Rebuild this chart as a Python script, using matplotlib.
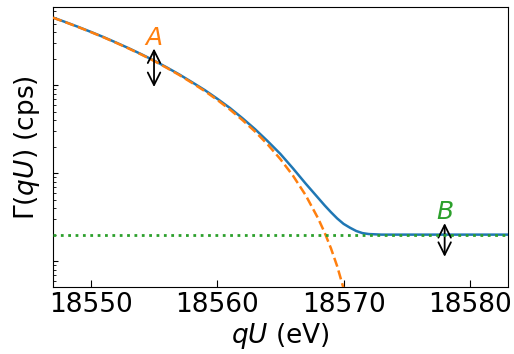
import matplotlib.pyplot as plt

# energies (eV) and rates (cps)
qu_total = [18547, 18548, 18549, 18550, 18551, 18552, 18553, 18554, 18555,
            18556, 18557, 18558, 18559, 18560, 18561, 18562, 18563, 18564,
            18565, 18566, 18567, 18568, 18568.5, 18569, 18569.5, 18570,
            18570.5, 18571, 18571.5, 18572, 18573, 18575, 18578, 18583]
rate_total = [585, 519, 458, 402, 351, 304, 262, 224, 190,
              159, 132, 108, 88, 70, 55, 42, 31.5, 23,
              16.5, 11.3, 7.6, 5.2, 4.3, 3.6, 3.05, 2.65,
              2.4, 2.2, 2.08, 2.03, 2.0, 2.0, 2.0, 2.0]

qu_signal = [18547, 18548, 18549, 18550, 18551, 18552, 18553, 18554, 18555,
             18556, 18557, 18558, 18559, 18560, 18561, 18562, 18563, 18564,
             18565, 18566, 18567, 18568, 18568.5, 18569, 18569.5, 18570,
             18570.5]
rate_signal = [583, 517, 456, 400, 349, 302, 260, 222, 188,
               157, 130, 106, 85.7, 67.9, 52.8, 40.0, 29.6, 21.1,
               14.4, 9.33, 5.61, 3.03, 2.11, 1.40, 0.87, 0.49,
               0.244]

qu_bkg = [18547, 18583]
rate_bkg = [2.0, 2.0]

fig = plt.figure(figsize=(5.14, 3.54), dpi=100)
ax = fig.add_axes([0.103, 0.189, 0.885, 0.791])

ax.plot(qu_total, rate_total, color='tab:blue', lw=1.8, zorder=2)
ax.plot(qu_signal, rate_signal, color='tab:orange', lw=1.8, ls='--', zorder=3)
ax.plot(qu_bkg, rate_bkg, color='tab:green', lw=2.0, ls=':', zorder=4)

ax.set_yscale('log')
ax.set_xlim(18547, 18583)
ax.set_ylim(0.507, 769)

# amplitude and background markers
arrow = dict(arrowstyle='<->, head_length=0.5, head_width=0.25',
             mutation_scale=18, color='black', lw=1.3,
             shrinkA=0, shrinkB=0)
ax.annotate('', xy=(18555, 95), xytext=(18555, 260), arrowprops=arrow)
ax.text(18555, 342, 'A', color='tab:orange', fontsize=18, style='italic',
        ha='center', va='center')
ax.annotate('', xy=(18578, 1.12), xytext=(18578, 2.7), arrowprops=arrow)
ax.text(18578, 3.63, 'B', color='tab:green', fontsize=18, style='italic',
        ha='center', va='center')

ax.set_xticks([18550, 18560, 18570, 18580])
ax.tick_params(axis='both', which='both', direction='in', labelsize=19)
ax.tick_params(axis='y', which='both', labelleft=False)
ax.tick_params(axis='x', which='major', length=5)
ax.tick_params(axis='x', which='minor', bottom=False)
ax.set_xlabel(r'$qU$ (eV)', fontsize=19, labelpad=2)
ax.set_ylabel(r'$\Gamma(qU)$ (cps)', fontsize=19, labelpad=8)

fig.savefig('out.png', dpi=100)
